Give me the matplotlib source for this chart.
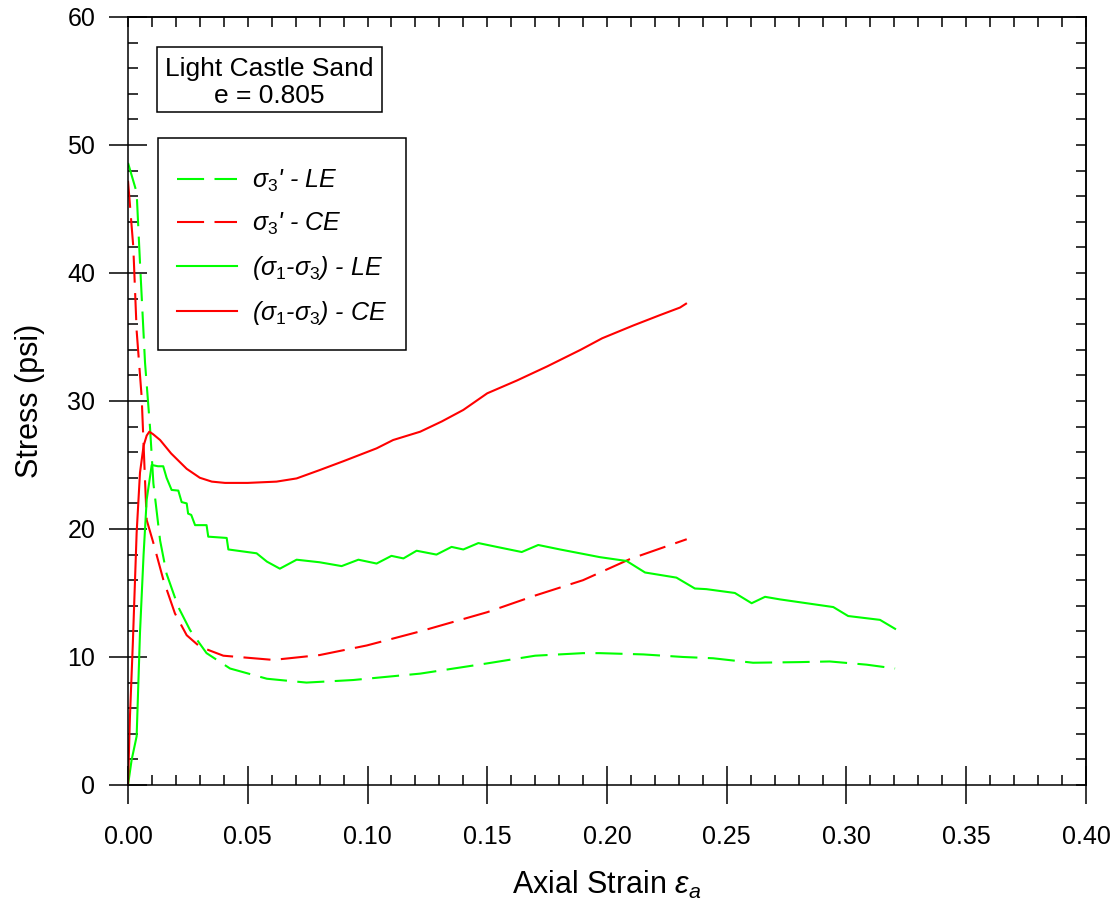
import numpy as np
import matplotlib
matplotlib.use("Agg")
import matplotlib.pyplot as plt
from matplotlib.ticker import MultipleLocator, FormatStrFormatter
from matplotlib.patches import Rectangle

plt.rcParams['font.family'] = ['Liberation Sans', 'DejaVu Sans']
plt.rcParams['mathtext.fontset'] = 'custom'
plt.rcParams['mathtext.rm'] = 'Liberation Sans'
plt.rcParams['mathtext.it'] = 'Liberation Sans:italic'

# sigma_3' - LE (effective confining stress, green dashed)
s3_le_x = [0, 0.0036, 0.005, 0.0071, 0.0092, 0.0106, 0.0134, 0.0161, 0.021, 0.0259,
           0.0328, 0.0426, 0.058, 0.0745, 0.094, 0.122, 0.150, 0.170, 0.190, 0.197,
           0.2152, 0.2318, 0.2443, 0.261, 0.2806, 0.293, 0.3084, 0.3203]
s3_le_y = [48.6, 46.3, 40.8, 33.0, 27.9, 23.55, 19.1, 16.5, 13.9, 12.1,
           10.3, 9.1, 8.3, 8.0, 8.2, 8.7, 9.5, 10.1, 10.3, 10.3,
           10.2, 10.0, 9.9, 9.55, 9.6, 9.65, 9.4, 9.1]

# sigma_3' - CE (red dashed)
s3_ce_x = [0, 0.0022, 0.0036, 0.0057, 0.0071, 0.0078, 0.0106, 0.0148, 0.0196, 0.0245,
           0.030, 0.0398, 0.0607, 0.080, 0.0997, 0.122, 0.150, 0.170, 0.190, 0.2096, 0.2333]
s3_ce_y = [47.2, 42.05, 35.5, 30.3, 23.8, 20.7, 18.9, 16.0, 13.4, 11.7,
           10.8, 10.1, 9.77, 10.15, 10.9, 12.0, 13.5, 14.8, 16.0, 17.65, 19.2]

# deviator stress - LE (green solid)
dev_le_x = [0, 0.0015, 0.0036, 0.005, 0.0065, 0.0078, 0.0099, 0.0125, 0.0147, 0.0161,
            0.0182, 0.021, 0.0224, 0.0245, 0.0251, 0.0264, 0.028, 0.0328, 0.0335, 0.0412,
            0.0419, 0.0537, 0.058, 0.0634, 0.0704, 0.080, 0.0892, 0.0962, 0.1038, 0.110,
            0.115, 0.1205, 0.1288, 0.1351, 0.140, 0.1463, 0.154, 0.1644, 0.1713, 0.1804,
            0.1915, 0.197, 0.2026, 0.2082, 0.2159, 0.229, 0.2367, 0.2415, 0.2534, 0.2604,
            0.266, 0.2722, 0.2945, 0.3007, 0.314, 0.3203]
dev_le_y = [0, 1.95, 3.8, 11.9, 18.0, 22.3, 25.0, 24.9, 24.9, 24.0,
            23.05, 23.0, 22.1, 22.0, 21.2, 21.1, 20.3, 20.3, 19.4, 19.3,
            18.4, 18.1, 17.45, 16.9, 17.6, 17.4, 17.1, 17.6, 17.3, 17.9,
            17.7, 18.3, 18.0, 18.6, 18.4, 18.9, 18.6, 18.2, 18.75, 18.4,
            18.0, 17.8, 17.65, 17.5, 16.6, 16.2, 15.35, 15.3, 15.0, 14.2,
            14.7, 14.5, 13.9, 13.2, 12.9, 12.2]

# deviator stress - CE (red solid)
dev_ce_x = [0, 0.0008, 0.002, 0.0036, 0.005, 0.0065, 0.0078, 0.0089, 0.0105, 0.0134,
            0.018, 0.0245, 0.030, 0.035, 0.0405, 0.050, 0.062, 0.0704, 0.080, 0.090,
            0.0969, 0.1038, 0.1107, 0.122, 0.131, 0.140, 0.150, 0.1624, 0.175, 0.189,
            0.198, 0.211, 0.222, 0.2305, 0.233]
dev_ce_y = [0, 5.3, 11.0, 19.7, 24.4, 26.5, 27.3, 27.6, 27.4, 26.95,
            25.9, 24.7, 24.0, 23.7, 23.6, 23.6, 23.7, 23.95, 24.6, 25.3,
            25.8, 26.3, 26.95, 27.6, 28.4, 29.3, 30.6, 31.6, 32.7, 34.0,
            34.9, 35.9, 36.7, 37.3, 37.6]

labels = [r"$\sigma_{\mathit{3}}$' - LE", r"$\sigma_{\mathit{3}}$' - CE",
          r"($\sigma_{\mathit{1}}$-$\sigma_{\mathit{3}}$) - LE",
          r"($\sigma_{\mathit{1}}$-$\sigma_{\mathit{3}}$) - CE"]

GREEN = "#00ff00"
RED = "#ff0000"
dash = (0, (13, 5))

fig = plt.figure(figsize=(11.2, 9.18), dpi=100)
ax = fig.add_axes([0.1143, 0.1449, 0.8553, 0.8366])

lw = 1.5
ax.plot(s3_le_x, s3_le_y, color=GREEN, lw=lw, ls=dash, label=labels[0])
ax.plot(s3_ce_x, s3_ce_y, color=RED, lw=lw, ls=dash, label=labels[1])
ax.plot(dev_le_x, dev_le_y, color=GREEN, lw=lw, label=labels[2])
ax.plot(dev_ce_x, dev_ce_y, color=RED, lw=lw, label=labels[3])

ax.set_xlim(0, 0.40)
ax.set_ylim(0, 60)
ax.xaxis.set_major_locator(MultipleLocator(0.05))
ax.xaxis.set_minor_locator(MultipleLocator(0.01))
ax.yaxis.set_major_locator(MultipleLocator(10))
ax.yaxis.set_minor_locator(MultipleLocator(2))
ax.xaxis.set_major_formatter(FormatStrFormatter('%.2f'))

for s in ax.spines.values():
    s.set_linewidth(1.1)
ax.tick_params(which='major', direction='inout', length=28, width=1.1,
               labelsize=18, pad=14.5)
ax.tick_params(axis='y', which='major', pad=9.5)
ax.tick_params(which='minor', direction='in', length=7.2, width=1.1)

# inward ticks along the top and right frame
top = ax.secondary_xaxis('top')
top.xaxis.set_major_locator(MultipleLocator(0.01))
top.tick_params(direction='in', length=7.2, width=1.1, labeltop=False)
top.spines['top'].set_linewidth(1.1)
right = ax.secondary_yaxis('right')
right.yaxis.set_major_locator(MultipleLocator(2))
right.tick_params(direction='in', length=7.2, width=1.1, labelright=False)
right.spines['right'].set_linewidth(1.1)

ax.set_xlabel(r"Axial Strain $\varepsilon_a$", fontsize=22, labelpad=15)
ax.set_ylabel("Stress (psi)", fontsize=22, labelpad=16)

# sample description box
ax.add_patch(Rectangle((0.0303, 0.8763), 0.2348, 0.0847, transform=ax.transAxes,
                       facecolor='white', edgecolor='black', lw=1.1, zorder=4))
ax.text(0.1477, 0.9147, "Light Castle Sand\ne = 0.805", fontsize=19,
        ha='center', va='center', multialignment='center', linespacing=1.2,
        transform=ax.transAxes, zorder=5)

# legend frame drawn separately so the entries can sit with extra margin
ax.add_patch(Rectangle((0.0313, 0.5664), 0.2589, 0.276, transform=ax.transAxes,
                       facecolor='white', edgecolor='black', lw=1.1, zorder=4))
leg = ax.legend(loc='upper left', bbox_to_anchor=(0.0511, 0.804),
                prop={'style': 'italic', 'size': 18}, frameon=False,
                handlelength=2.4, handletextpad=0.6, labelspacing=0.68,
                borderpad=0, borderaxespad=0)
leg.set_zorder(6)

fig.savefig("out.png", dpi=100)
